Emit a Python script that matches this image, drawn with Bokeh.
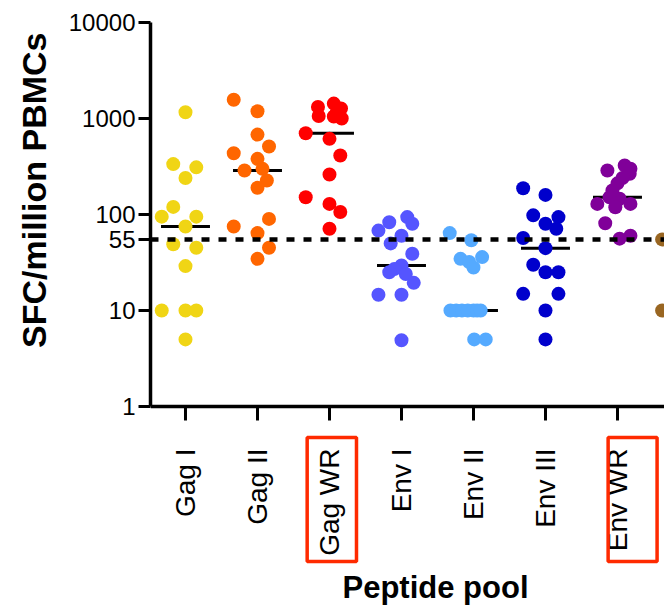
import numpy as np
from bokeh.plotting import figure
from bokeh.models import FixedTicker, Range1d, Span, PrintfTickFormatter, Title
from bokeh.core.properties import value
from bokeh.embed import file_html
from bokeh.resources import INLINE

# ---------------- data ----------------
categories = ["Gag I", "Gag II", "Gag WR", "Env I", "Env II", "Env III", "Env WR", "Pool 8"]
highlighted = ["Gag WR", "Env WR"]
threshold = 55
y_ticks = [1, 10, 55, 100, 1000, 10000]
x_title = "Peptide pool"
y_title = "SFC/million PBMCs"

gag1 = [1160, 335, 310, 240, 120, 95, 95, 75, 49, 45, 29, 10, 10, 10, 5]
gag1_jit = [0, -0.17, 0.15, 0, -0.17, -0.33, 0.15, 0, -0.17, 0.15, 0, -0.33, 0, 0.15, 0]

gag2 = [1570, 1190, 680, 510, 435, 380, 299, 287, 226, 190, 90, 75, 64, 45, 34.5]
gag2_jit = [-0.33, 0, 0, 0.16, -0.33, 0, 0.07, -0.18, 0.13, 0, 0.16, -0.33, 0, 0.16, 0]

gagwr = [1430, 1320, 1270, 1150, 1060, 1050, 1000, 703, 614, 412, 261, 151, 129, 106, 71]
gagwr_jit = [0.06, -0.16, 0.16, 0.1, -0.15, 0.06, 0.17, -0.33, 0, 0.15, 0, -0.33, 0, 0.15, 0]

env1 = [94, 83, 80, 68, 60, 50, 39, 29.4, 27, 25, 24, 19.4, 14.6, 14.6, 4.9]
env1_jit = [0.08, -0.17, 0.15, -0.32, 0, -0.15, 0.15, 0, -0.1, -0.17, 0.06, 0.17, -0.32, 0, 0]

env2 = [64, 54, 36, 34.5, 32, 28, 10, 10, 10, 10, 10, 10, 10, 5, 5]
env2_jit = [-0.33, -0.03, 0.12, -0.18, -0.06, 0, -0.32, -0.24, -0.16, -0.08, 0, 0.05, 0.1, 0.01, 0.17]

env3 = [188, 160, 98, 94, 80, 71, 57, 44.6, 30, 25, 25, 14.9, 14.9, 10, 5]
env3_jit = [-0.31, 0, -0.17, 0.18, 0, 0.15, -0.31, 0, -0.17, 0, 0.18, -0.31, 0.18, 0, 0]

envwr = [324, 300, 287, 266, 240, 211, 178, 151, 146, 129, 129, 119, 81, 60, 56]
envwr_jit = [0.1, 0.18, -0.14, 0.17, 0.07, 0, -0.07, -0.11, 0.03, -0.28, 0.18, -0.03, -0.17, 0.18, 0.03]

pool8 = [55, 10]
pool8_jit = [-0.38, -0.38]

groups = [gag1, gag2, gagwr, env1, env2, env3, envwr, pool8]
jitters = [gag1_jit, gag2_jit, gagwr_jit, env1_jit, env2_jit, env3_jit, envwr_jit, pool8_jit]
colors = ["#F0D515", "#FF6600", "#FF0000", "#5555FF", "#55AAFF", "#0000CC", "#800099", "#996622"]

FONT = "Liberation Sans"

# ---------------- layout ----------------
DECADE = 96.0                 # px per decade on the log axis
BELOW = 199.0                 # px of frame kept under the value axis (category labels)
def below(px):                # a position px pixels under the value-axis baseline (y = 1)
    return 10 ** (-px / DECADE)

p = figure(width=664, height=605,
           x_range=Range1d(-0.486, 6.653), y_range=Range1d(below(BELOW), 10000),
           y_axis_type="log", x_axis_location=None,
           output_backend="svg", toolbar_location=None,
           min_border_left=150, min_border_right=0, min_border_top=22, min_border_bottom=0)
p.background_fill_color = "white"
p.border_fill_color = "white"
p.outline_line_color = None
p.grid.visible = False

# median lines (below points)
for i, vals in enumerate(groups[:7]):
    med = float(np.median(vals))
    p.segment(x0=[i - 0.34], y0=[med], x1=[i + 0.34], y1=[med], line_color="black", line_width=3)

# points
for i, (vals, jit, col) in enumerate(zip(groups, jitters, colors)):
    xs = [i + j for j in jit]
    p.scatter(x=xs, y=vals, size=14, fill_color=col, line_color=None)

# threshold line
p.add_layout(Span(location=threshold, dimension="width", line_color="black",
                  line_width=4.5, line_dash="8 9"))

# value axis
yax = p.yaxis[0]
yax.bounds = (1, 10000)
yax.ticker = FixedTicker(ticks=y_ticks, minor_ticks=[])
yax.formatter = PrintfTickFormatter(format="%d")
yax.major_label_text_font = FONT
yax.major_label_text_font_size = "24px"
yax.major_label_text_color = "black"
yax.major_label_standoff = 3
yax.axis_line_width = 3.5
yax.major_tick_line_width = 3
yax.major_tick_out = 12
yax.major_tick_in = 0
yax.minor_tick_line_color = None

# value-axis title (placed in the left panel, aligned to the upper part of the frame)
p.add_layout(Title(text=y_title, align="right", offset=10, standoff=25,
                   text_font=FONT, text_font_style="bold", text_font_size="34px",
                   text_color="black"), "left")

# category axis (baseline, ticks, rotated labels) drawn under the value axis
n_vis = 7
idx = list(range(n_vis))
p.add_layout(Span(location=1, dimension="width", line_color="black", line_width=3.5))
p.segment(x0=idx, y0=[1] * n_vis, x1=idx, y1=[below(14)] * n_vis, line_color="black", line_width=3)
p.text(x=idx, y=[below(42)] * n_vis, text=categories[:n_vis], angle=np.pi / 2,
       text_align="right", text_baseline="middle", text_font=value(FONT),
       text_font_size="28px", text_color="black")
p.text(x=[(342 - 185) / 72.0], y=[below(181)], text=[x_title], text_align="left",
       text_baseline="middle", text_font=value(FONT), text_font_style="bold",
       text_font_size="31px", text_color="black")

# highlight boxes around the two labels
box_ext = {"Gag WR": (-0.31, 0.375), "Env WR": (-0.13, 0.55)}
for c in highlighted:
    i = categories.index(c)
    lo, hi = box_ext[c]
    p.quad(left=[i + lo], right=[i + hi], top=[below(31)], bottom=[below(155)],
           fill_color=None, line_color="#FF2A00", line_width=3.5)

open("out.html", "w").write(file_html(p, INLINE))
